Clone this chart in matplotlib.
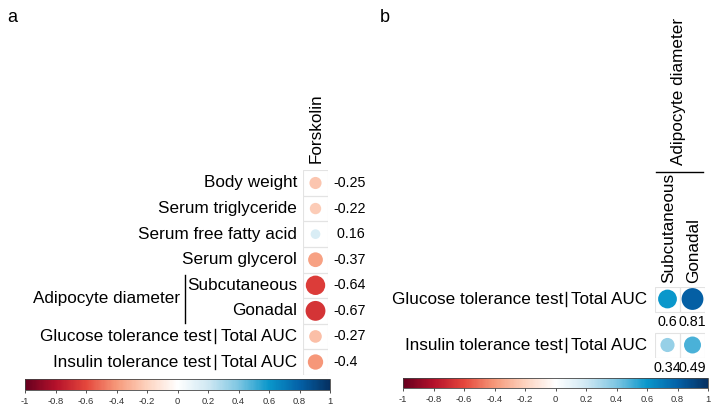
import numpy as np
import matplotlib
matplotlib.use("Agg")
import matplotlib.pyplot as plt
from matplotlib.patches import Rectangle
from matplotlib.colors import Normalize, LinearSegmentedColormap
from matplotlib.cm import ScalarMappable

plt.rcParams['font.family'] = ['Liberation Sans', 'DejaVu Sans']

# ---------------- data ----------------
a_rows = ["Body weight", "Serum triglyceride", "Serum free fatty acid", "Serum glycerol",
          "Subcutaneous", "Gonadal", "Total AUC", "Total AUC"]
a_prefix = ["", "", "", "", "", "", "Glucose tolerance test", "Insulin tolerance test"]
a_col = "Forskolin"
a_values = [-0.25, -0.22, 0.16, -0.37, -0.64, -0.67, -0.27, -0.4]
a_group = "Adipocyte diameter"

b_rows = ["Total AUC", "Total AUC"]
b_prefix = ["Glucose tolerance test", "Insulin tolerance test"]
b_cols = ["Subcutaneous", "Gonadal"]
b_group = "Adipocyte diameter"
b_values = [[0.6, 0.81], [0.34, 0.49]]

cbar_ticks = [-1, -0.8, -0.6, -0.4, -0.2, 0, 0.2, 0.4, 0.6, 0.8, 1]

# colour scale (style)
cmap = LinearSegmentedColormap.from_list('corr', [
    (0.0, '#67001F'), (0.1, '#B5112B'), (0.2, '#E5473C'), (0.3, '#F6997A'),
    (0.4, '#FDD3BF'), (0.5, '#FFFFFF'), (0.6, '#D0E8F3'), (0.7, '#7EC6E2'),
    (0.8, '#0A97CB'), (0.9, '#0462A8'), (1.0, '#053061')])

# ---------------- layout ----------------
W, H = 716, 412
fig = plt.figure(figsize=(W / 100, H / 100), dpi=100)
norm = Normalize(-1, 1)
grid_col = '#E3E3E3'
LBL = 12.3
VAL = 10.3


def fx(x):
    return x / W


def fy(y):
    return 1 - y / H


def ftext(x, y, s, **kw):
    fig.text(fx(x), fy(y), s, **kw)


def fline(xs, ys, **kw):
    fig.add_artist(plt.Line2D([fx(v) for v in xs], [fy(v) for v in ys], **kw))


def fmt(v):
    return ('%g' % v)


def cell_px(ax, nx):
    bb = ax.get_position()
    return bb.width * W / nx


def colorbar(x0, x1, y0, y1):
    cax = fig.add_axes([fx(x0), fy(y1), fx(x1) - fx(x0), fy(y0) - fy(y1)])
    cb = fig.colorbar(ScalarMappable(norm=norm, cmap=cmap), cax=cax, orientation='horizontal',
                      ticks=cbar_ticks)
    cb.ax.set_xticklabels([fmt(t) for t in cbar_ticks])
    cb.ax.tick_params(labelsize=6.8, length=2, width=0.6, pad=3, colors='#333333')
    cb.outline.set_linewidth(0.6)
    cb.outline.set_edgecolor('#444444')
    return cb


# ---- panel a ----
ftext(12, 18, 'a', fontsize=13, ha='center', va='center')
a_top, a_bot = 170.2, 374.8
ax_a = fig.add_axes([fx(303), fy(a_bot), fx(328) - fx(303), fy(a_top) - fy(a_bot)])
n = len(a_values)
ax_a.set_xlim(0, 1)
ax_a.set_ylim(n, 0)
ax_a.axis('off')
cp = cell_px(ax_a, 1)
for i, v in enumerate(a_values):
    ax_a.add_patch(Rectangle((0, i), 1, 1, fill=False, ec=grid_col, lw=0.8))
d_pt = cp * 0.97 * np.sqrt(np.abs(a_values)) * 0.72
ax_a.scatter(np.full(n, 0.5), np.arange(n) + 0.5, s=d_pt ** 2,
             c=a_values, cmap=cmap, norm=norm, edgecolors='none', zorder=3)

row_h = (a_bot - a_top) / n
for i, (lab, pre, v) in enumerate(zip(a_rows, a_prefix, a_values)):
    yc = a_top + (i + 0.5) * row_h
    ftext(297, yc, lab, fontsize=LBL, ha='right', va='center')
    if pre:
        ftext(211, yc, pre, fontsize=LBL, ha='right', va='center')
        fline([215, 215], [yc - 7, yc + 7], color='black', lw=1)
    s = fmt(v) if v < 0 else ' ' + fmt(v)
    ftext(333, yc, s, fontsize=VAL, ha='left', va='center')
# group bracket
y1 = a_top + 4.5 * row_h
y2 = a_top + 5.5 * row_h
ftext(180, (y1 + y2) / 2, a_group, fontsize=LBL, ha='right', va='center')
fline([185, 185], [y1 - 10, y2 + 12], color='black', lw=1)
ftext(316, 163, a_col, fontsize=LBL, rotation=90, ha='center', va='bottom')

colorbar(25, 330, 379, 390)

# ---- panel b ----
ftext(385, 18, 'b', fontsize=13, ha='center', va='center')
row_gap = 1.84
nb = len(b_rows)
mb = len(b_cols)
b_top, b_left, cw = 286.5, 655, 25
b_h_units = (nb - 1) * row_gap + 1
ax_b = fig.add_axes([fx(b_left), fy(b_top + b_h_units * cw), fx(b_left + mb * cw) - fx(b_left),
                     fy(b_top) - fy(b_top + b_h_units * cw)])
ax_b.set_xlim(0, mb)
ax_b.set_ylim((nb - 1) * row_gap + 0.5, -0.5)
ax_b.axis('off')
cpb = cell_px(ax_b, mb)
vals = np.array(b_values)
xs, ys = np.meshgrid(np.arange(mb) + 0.5, np.arange(nb) * row_gap)
for i in range(nb):
    for j in range(mb):
        ax_b.add_patch(Rectangle((j, i * row_gap - 0.5), 1, 1, fill=False, ec=grid_col, lw=0.8))
        ax_b.text(j + 0.5, i * row_gap + 0.92, fmt(vals[i, j]), fontsize=VAL,
                  ha='center', va='center', clip_on=False)
dpt_b = cpb * 0.97 * np.sqrt(np.abs(vals.ravel())) * 0.72
ax_b.scatter(xs.ravel(), ys.ravel(), s=dpt_b ** 2, c=vals.ravel(), cmap=cmap, norm=norm,
             edgecolors='none', zorder=3)

for i, (lab, pre) in enumerate(zip(b_rows, b_prefix)):
    yc = b_top + 12.5 + i * row_gap * cw
    ftext(647, yc, lab, fontsize=LBL, ha='right', va='center')
    ftext(563, yc, pre, fontsize=LBL, ha='right', va='center')
    fline([566, 566], [yc - 7, yc + 7], color='black', lw=1)
for j, c in enumerate(b_cols):
    ftext(b_left + (j + 0.5) * cw + 1, 283, c, fontsize=LBL, rotation=90, ha='center', va='bottom')
fline([656, 703], [172, 172], color='black', lw=1)
ftext(679, 165, b_group, fontsize=LBL, rotation=90, ha='center', va='bottom')

colorbar(403, 708, 378, 388)

fig.savefig('out.png', dpi=100)
